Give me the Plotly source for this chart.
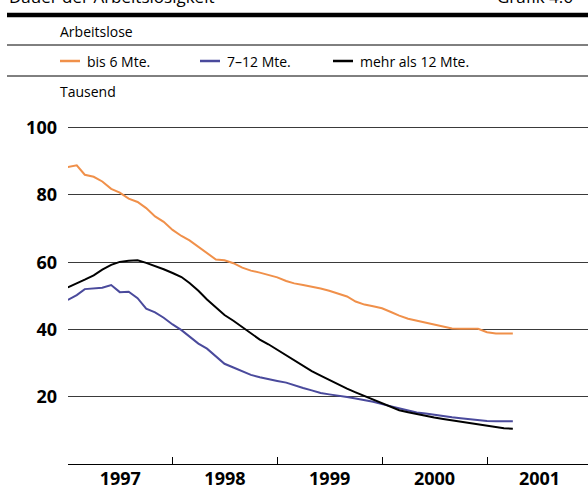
import plotly.graph_objects as go
import pandas as pd

months = pd.date_range("1997-01-01", periods=52, freq="MS")

bis_6 = [88.3, 88.8, 86.0, 85.4, 84.0, 81.8, 80.7, 78.9, 77.9, 76.1, 73.6, 72.0,
         69.6, 67.8, 66.5, 64.6, 62.7, 60.8, 60.6, 59.7, 58.4, 57.5, 56.9, 56.2,
         55.5, 54.4, 53.7, 53.2, 52.8, 52.2, 51.5, 50.6, 49.8, 48.3, 47.4, 46.9,
         46.3, 45.2, 44.1, 43.2, 42.6, 42.2, 41.4, 40.9, 40.3, 40.2, 40.2, 40.2,
         39.2, 38.8, 38.8, 38.8]
m7_12 = [48.8, 50.2, 52.0, 52.3, 52.4, 53.2, 51.1, 51.2, 49.3, 46.2, 45.1, 43.5,
         41.5, 39.8, 38.0, 35.8, 34.3, 32.0, 29.8, 28.7, 27.5, 26.5, 25.8, 25.2,
         24.7, 24.2, 23.4, 22.6, 21.9, 21.1, 20.7, 20.4, 19.9, 19.5, 19.1, 18.5,
         17.8, 17.2, 16.7, 16.0, 15.3, 15.0, 14.6, 14.2, 13.9, 13.6, 13.3, 13.0,
         12.8, 12.7, 12.6, 12.7]
ueber_12 = [52.5, 53.6, 54.8, 56.1, 57.8, 59.2, 60.1, 60.4, 60.6, 59.8, 58.9, 57.9,
            56.8, 55.6, 53.8, 51.5, 48.9, 46.5, 44.3, 42.6, 40.8, 38.8, 37.0, 35.6,
            34.0, 32.3, 30.7, 29.2, 27.6, 26.3, 25.0, 23.7, 22.4, 21.3, 20.2, 19.0,
            17.9, 16.9, 16.0, 15.4, 14.8, 14.3, 13.8, 13.4, 13.0, 12.6, 12.2, 11.9,
            11.5, 11.0, 10.6, 10.5]

series_names = ["bis 6 Mte.", "7\u201312 Mte.", "mehr als 12 Mte."]
series_colors = ["#F0904A", "#4A4A9C", "#000000"]
y_ticks = [20, 40, 60, 80, 100]

FONT = "Open Sans"
W, H = 588, 486
L, R, T, B = 68, 0, 126, 22
PW, PH = W - L - R, H - T - B


def px(x):
    return (x - L) / PW


def py(y):
    return (H - B - y) / PH


fig = go.Figure()
for name, vals, col in zip(series_names, [bis_6, m7_12, ueber_12], series_colors):
    fig.add_trace(go.Scatter(x=months, y=vals, mode="lines", name=name,
                             line=dict(color=col, width=2), showlegend=False))

shapes = []
annotations = []
# header rules
shapes.append(dict(type="line", xref="paper", yref="paper", x0=px(7), x1=px(588),
                   y0=py(15), y1=py(15), line=dict(color="black", width=4.6)))
shapes.append(dict(type="line", xref="paper", yref="paper", x0=px(7), x1=px(588),
                   y0=py(45), y1=py(45), line=dict(color="black", width=1)))
shapes.append(dict(type="line", xref="paper", yref="paper", x0=px(7), x1=px(588),
                   y0=py(76), y1=py(76), line=dict(color="black", width=1)))

annotations.append(dict(text="Dauer der Arbeitslosigkeit", xref="paper", yref="paper",
                        x=px(7), y=py(-4), xanchor="left", yanchor="middle",
                        showarrow=False, font=dict(family=FONT, size=17, color="black")))
annotations.append(dict(text="Grafik 4.6", xref="paper", yref="paper",
                        x=px(495), y=py(-4), xanchor="left", yanchor="middle",
                        showarrow=False, font=dict(family=FONT, size=17, color="black")))
annotations.append(dict(text="Arbeitslose", xref="paper", yref="paper",
                        x=px(58), y=py(32), xanchor="left", yanchor="middle",
                        showarrow=False, font=dict(family=FONT, size=14, color="black")))
annotations.append(dict(text="Tausend", xref="paper", yref="paper",
                        x=px(58), y=py(92), xanchor="left", yanchor="middle",
                        showarrow=False, font=dict(family=FONT, size=14, color="black")))

leg_x = [60, 200, 333]
for lx, name, col in zip(leg_x, series_names, series_colors):
    shapes.append(dict(type="line", xref="paper", yref="paper", x0=px(lx), x1=px(lx + 20),
                       y0=py(61), y1=py(61), line=dict(color=col, width=2.5)))
    annotations.append(dict(text=name, xref="paper", yref="paper", x=px(lx + 25),
                            y=py(61), xanchor="left", yanchor="middle", showarrow=False,
                            font=dict(family=FONT, size=14, color="black")))

fig.update_layout(
    width=W, height=H,
    margin=dict(l=L, r=R, t=T, b=B, pad=0, autoexpand=False),
    plot_bgcolor="white", paper_bgcolor="white",
    font=dict(family=FONT, color="black"),
    shapes=shapes, annotations=annotations,
    showlegend=False,
)
fig.update_xaxes(
    type="date", range=["1997-01-01 12:00", "2001-12-19"],
    dtick="M12", tick0="1997-01-01", ticklabelmode="period", tickformat="%Y",
    ticks="inside", ticklen=7, tickcolor="black", tickwidth=1,
    showline=True, linecolor="black", linewidth=1.2,
    showgrid=False, zeroline=False, automargin=False,
    tickfont=dict(family=FONT, size=18, color="black", weight="bold"),
    ticklabelstandoff=-2,
)
fig.update_yaxes(
    range=[0, 100.5], tickvals=y_ticks, ticks="", showline=False, zeroline=False,
    showgrid=True, gridcolor="#3a3a3a", gridwidth=1, automargin=False,
    tickfont=dict(family=FONT, size=18, color="black", weight="bold"),
    ticklabelstandoff=10,
)

fig.write_html("out.html", config={"displayModeBar": False},
               post_script="document.body.style.margin='0px';")
